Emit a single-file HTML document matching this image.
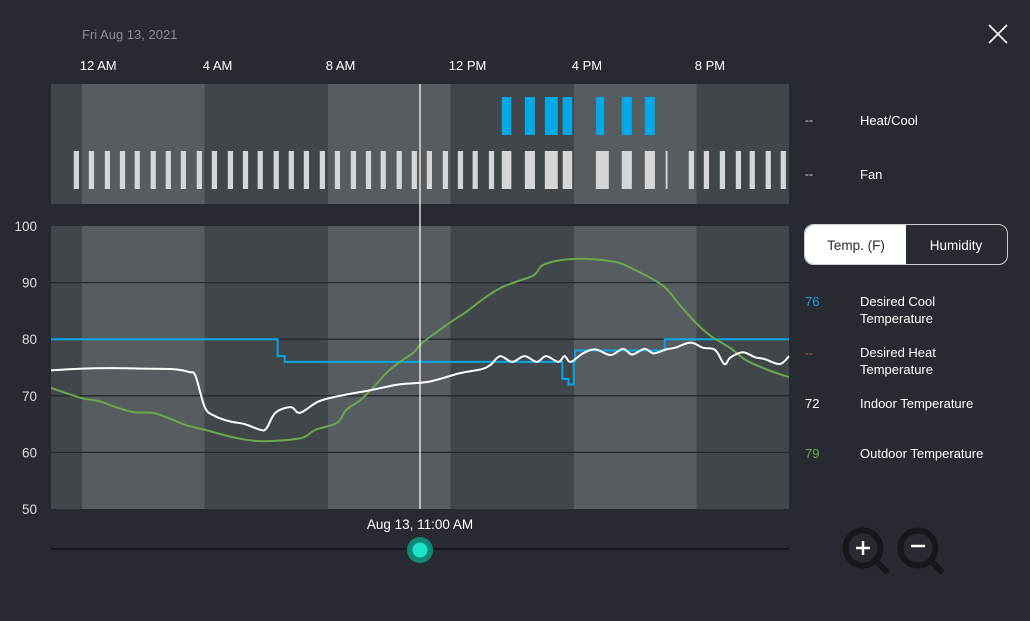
<!DOCTYPE html>
<html><head><meta charset="utf-8"><style>
html,body{margin:0;padding:0;background:#272b31;width:1030px;height:621px;overflow:hidden;font-family:"Liberation Sans",sans-serif}
svg text{font-family:"Liberation Sans",sans-serif}
</style></head><body>
<svg id="c" width="1030" height="621" xmlns="http://www.w3.org/2000/svg">
<rect x="0" y="0" width="1030" height="621" fill="#272b31"/>
<text x="82" y="39" fill="#8a8e93" font-size="13">Fri Aug 13, 2021</text>
<g id="timeLabels"></g>
<g id="bands"></g>
<g id="grid"></g>
<g id="ylab"></g>
<g id="events"></g>
<g id="series"></g>
<line x1="420" y1="84" x2="420" y2="509" stroke="#fff" stroke-width="1.2"/>
<text x="420" y="529" fill="#fff" font-size="13.5" text-anchor="middle">Aug 13, 11:00 AM</text>
<line x1="51" y1="549" x2="789" y2="549" stroke="#15171a" stroke-width="2"/>
<circle cx="420" cy="550" r="13" fill="#0f8a76"/>
<circle cx="420" cy="550" r="7.5" fill="#1de3c9"/>
<text x="805" y="124" fill="#ddd" font-size="12">--</text>
<text x="860" y="125" fill="#fff" font-size="13">Heat/Cool</text>
<text x="805" y="178" fill="#ddd" font-size="12">--</text>
<text x="860" y="179" fill="#fff" font-size="13">Fan</text>
<g>
<rect x="804.5" y="224.5" width="203" height="40" rx="9" fill="#272b31" stroke="#ccc" stroke-width="1"/>
<path d="M813.5 225 H906 V264 H813.5 A9 9 0 0 1 805 255 V234 A9 9 0 0 1 813.5 225 Z" fill="#fff"/>
<text x="856" y="250" fill="#272b31" font-size="13.5" text-anchor="middle">Temp. (F)</text>
<text x="956" y="250" fill="#fff" font-size="13.5" text-anchor="middle">Humidity</text>
</g>
<text x="805" y="306" fill="#1aa3e0" font-size="13">76</text>
<text x="860" y="306" fill="#fff" font-size="13">Desired Cool</text>
<text x="860" y="323" fill="#fff" font-size="13">Temperature</text>
<text x="805" y="357" fill="#c8641e" font-size="12">--</text>
<text x="860" y="357" fill="#fff" font-size="13">Desired Heat</text>
<text x="860" y="374" fill="#fff" font-size="13">Temperature</text>
<text x="805" y="408" fill="#fff" font-size="13">72</text>
<text x="860" y="408" fill="#fff" font-size="13">Indoor Temperature</text>
<text x="805" y="458" fill="#6aa84f" font-size="13">79</text>
<text x="860" y="458" fill="#fff" font-size="13">Outdoor Temperature</text>
<g>
<line x1="875" y1="560" x2="886" y2="571" stroke="#15171a" stroke-width="6" stroke-linecap="round"/>
<circle cx="863" cy="548" r="17.5" fill="#272b31" stroke="#15171a" stroke-width="6"/>
<line x1="856" y1="548" x2="870" y2="548" stroke="#fff" stroke-width="2.5"/>
<line x1="863" y1="541" x2="863" y2="555" stroke="#fff" stroke-width="2.5"/>
</g>
<g>
<line x1="930" y1="560" x2="941" y2="571" stroke="#15171a" stroke-width="6" stroke-linecap="round"/>
<circle cx="918" cy="548" r="17.5" fill="#272b31" stroke="#15171a" stroke-width="6"/>
<line x1="911" y1="546" x2="925" y2="546" stroke="#fff" stroke-width="2.5"/>
</g>
<g>
<line x1="989" y1="25" x2="1007" y2="43" stroke="#fff" stroke-width="1.6"/>
<line x1="1007" y1="25" x2="989" y2="43" stroke="#fff" stroke-width="1.6"/>
</g>
</svg>
<script>
const tickHours=[0,4,8,12,16,20];
const tickLabels=["12 AM","4 AM","8 AM","12 PM","4 PM","8 PM"];
const yTicks=[100,90,80,70,60,50];
const indoorHours=[-1,0,1,2,3,3.5,3.7,4,4.3,4.8,5.3,5.8,6,6.3,6.8,7.1,7.7,8.4,9.4,10.3,11.3,12.3,13,13.3,13.6,14.0,14.4,14.8,15.1,15.5,15.7,15.9,16.3,16.7,17.2,17.6,17.9,18.3,18.6,19.0,19.3,19.8,20.2,20.6,20.9,21.1,21.5,21.9,22.2,22.7,23];
const indoorValues=[74.5,74.8,74.9,74.8,74.7,74.2,73.5,68,66.5,65.5,65,64,64.2,67,68,67,69,70,71,72,72.5,74,74.7,75.5,77,76,77,76,77,76,77,76,77.5,78.2,77.2,78.3,77.3,78.3,77.5,78.2,78.5,79.4,78.5,78.1,75.6,76.8,77.7,76.8,76.5,75.6,77];
const outdoorHours=[-1,0,0.6,1.1,1.7,2.3,2.8,3.4,4,4.9,5.8,7.1,7.6,8.3,8.6,9.0,9.4,9.9,10.3,10.8,11,11.5,12.1,12.5,13.0,13.6,14.1,14.7,15.0,15.6,16.4,17.4,18.0,18.5,19.0,19.5,20.1,20.5,21.1,21.6,22.3,23];
const outdoorValues=[71.4,69.6,69,68,67.1,67,66.1,64.8,64,62.7,62,62.5,64,65.2,67.5,69,71,74,75.8,77.7,79,81.1,83.4,84.8,86.9,89,90.1,91.3,93.1,94,94.2,93.6,92.2,90.8,89,85.7,82.2,80.4,78.4,76.3,74.6,73.3];
const coolHours=[-1,6.37,6.45,6.6,15.63,15.7,15.83,16.0,16.04,18.96,23];
const coolValues=[80,77,77,76,73,73,72,76,78,80,80];
const callHours=[13.66,14.41,15.06,15.64,16.72,17.56,18.31];
const callDurations=[0.31,0.33,0.42,0.31,0.27,0.33,0.33];
const fanHours=[-0.26,0.23,0.75,1.24,1.72,2.24,2.73,3.22,3.74,4.23,4.75,5.24,5.72,6.24,6.73,7.22,7.74,8.23,8.75,9.24,9.72,10.24,10.73,11.22,11.74,12.23,12.71,13.24,13.66,14.41,15.06,15.64,16.72,17.56,18.31,18.99,19.74,20.23,20.75,21.27,21.72,22.24,22.73];
const fanDurations=[0.17,0.17,0.17,0.17,0.17,0.17,0.17,0.17,0.17,0.17,0.17,0.17,0.17,0.17,0.17,0.17,0.17,0.17,0.17,0.17,0.17,0.17,0.17,0.17,0.17,0.17,0.17,0.17,0.31,0.33,0.42,0.31,0.42,0.33,0.33,0.06,0.17,0.17,0.17,0.17,0.17,0.17,0.17];

const X0=51,X1=789,H0=-1,H1=23,YT=226,YB=509,V0=50,V1=100;
const xs=h=>X0+(h-H0)/(H1-H0)*(X1-X0);
const ys=v=>YB-(v-V0)/(V1-V0)*(YB-YT);
const NS="http://www.w3.org/2000/svg";
function mk(tag,attrs,parent){const e=document.createElementNS(NS,tag);for(const k in attrs)e.setAttribute(k,attrs[k]);document.getElementById(parent).appendChild(e);return e;}

// bands: top panel and chart panel
const bandEdges=[H0,0,4,8,12,16,20,H1];
for(let i=0;i<bandEdges.length-1;i++){
  const fill=i%2===1?"#575c61":"#41464b";
  const x=xs(bandEdges[i]),w=xs(bandEdges[i+1])-x;
  const a=mk("rect",{x:x,y:84,width:w,height:120,fill:fill},"bands");
  
  
  const b=mk("rect",{x:x,y:YT,width:w,height:YB-YT,fill:fill},"bands");
  
  
}
tickHours.forEach((h,i)=>{
  const t=mk("text",{x:xs(h)-2,y:70,fill:"#fff","font-size":13},"timeLabels");
  t.textContent=tickLabels[i];
  
  
});
yTicks.forEach(v=>{
  if(v!==100&&v!==50){
    const l=mk("line",{x1:X0,x2:X1,y1:ys(v),y2:ys(v),stroke:"#25282d","stroke-width":1.3},"grid");
    
    
  }
  const t=mk("text",{x:37,y:ys(v)+5,fill:"#ddd","font-size":13.5,"text-anchor":"end"},"ylab");
  t.textContent=v;
  
  
});
callHours.forEach((h,i)=>{
  const r=mk("rect",{x:xs(h),y:97,width:xs(h+callDurations[i])-xs(h),height:38,fill:"#03a9e6"},"events");
  
  
});
fanHours.forEach((h,i)=>{
  const r=mk("rect",{x:xs(h),y:151,width:Math.max(1.5,xs(h+fanDurations[i])-xs(h)),height:38,fill:"#d5d6d8"},"events");
  
  
});
// cool setpoint step line
let d="";
coolHours.forEach((h,i)=>{
  if(i===0)d+="M"+xs(h)+" "+ys(coolValues[i]);
  else d+=" H"+xs(h)+" V"+ys(coolValues[i]);
});
const cp=mk("path",{d:d,fill:"none",stroke:"#03a9e6","stroke-width":2},"series");


function smooth(hs,vs){
  const p=hs.map((h,i)=>[xs(h),ys(vs[i])]);
  let s="M"+p[0][0]+" "+p[0][1];
  for(let i=0;i<p.length-1;i++){
    const p0=p[Math.max(0,i-1)],p1=p[i],p2=p[i+1],p3=p[Math.min(p.length-1,i+2)];
    const c1=[p1[0]+(p2[0]-p0[0])/6,p1[1]+(p2[1]-p0[1])/6];
    const c2=[p2[0]-(p3[0]-p1[0])/6,p2[1]-(p3[1]-p1[1])/6];
    s+=" C"+c1[0]+" "+c1[1]+" "+c2[0]+" "+c2[1]+" "+p2[0]+" "+p2[1];
  }
  return s;
}
const op=mk("path",{d:smooth(outdoorHours,outdoorValues),fill:"none",stroke:"#6aa84f","stroke-width":2},"series");


const ip=mk("path",{d:smooth(indoorHours,indoorValues),fill:"none",stroke:"#fff","stroke-width":2},"series");


</script>
</body></html>
